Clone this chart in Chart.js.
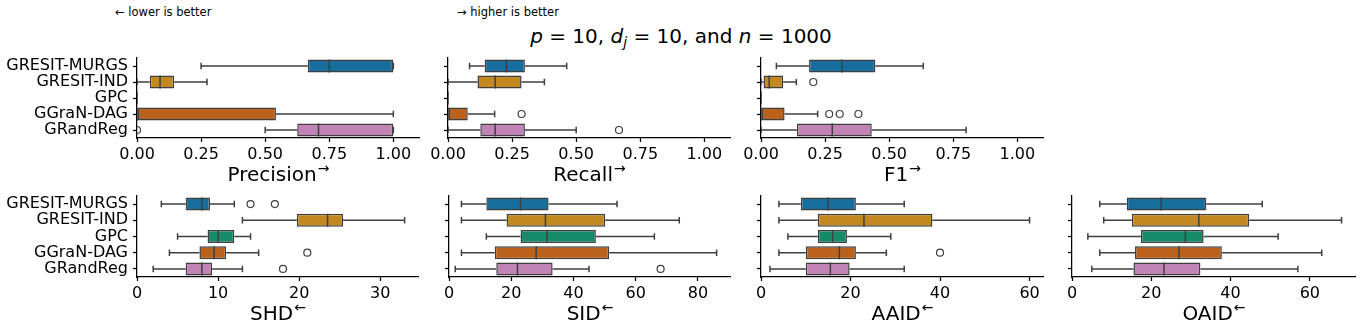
<!DOCTYPE html>
<html>
<head>
<meta charset="utf-8">
<script src="https://cdn.jsdelivr.net/npm/chart.js@4.4.1/dist/chart.umd.min.js"></script>
<style>
  body { margin:0; background:#fff; width:1362px; height:332px; position:relative; overflow:hidden; font-family:'DejaVu Sans', sans-serif; color:#000; }
  canvas { position:absolute; }
  .note { position:absolute; font-size:11.5px; line-height:12px; white-space:nowrap; }
  #title { position:absolute; left:0; width:1362px; top:26px; text-align:center; font-size:20px; line-height:20px; white-space:nowrap; }
  #title i { font-style:oblique; }
  #title sub { font-size:70%; line-height:0; vertical-align:-0.3em; }
</style>
</head>
<body>
<div class="note" style="left:115px; top:6px">← lower is better</div>
<div class="note" style="left:457px; top:6px">→ higher is better</div>
<div id="title"><i>p</i> = 10, <i>d<sub>j</sub></i> = 10, and <i>n</i> = 1000</div>
<script>
const CATEGORIES = ['GRESIT-MURGS', 'GRESIT-IND', 'GPC', 'GGraN-DAG', 'GRandReg'];
const BOX_COLORS = ['#176d9c', '#c38820', '#158b6a', '#ba611b', '#c283b6'];

// per method: [whisker low, Q1, median, Q3, whisker high]
const PRECISION = [[0.25, 0.666, 0.75, 1, 1], [0, 0.05, 0.09, 0.145, 0.273], [0, 0, 0, 0, 0], [0, 0, 0, 0.542, 1], [0.5, 0.625, 0.708, 1, 1]];
const PRECISION_OUT = [[], [], [], [], [0]];
const RECALL = [[0.084, 0.143, 0.228, 0.30, 0.463], [0, 0.115, 0.184, 0.287, 0.376], [0, 0, 0, 0, 0], [0, 0, 0, 0.077, 0.182], [0, 0.126, 0.184, 0.30, 0.50]];
const RECALL_OUT = [[], [], [], [0.287], [0.667]];
const F1 = [[0.06, 0.1875, 0.315, 0.446, 0.633], [0, 0.01, 0.032, 0.086, 0.138], [0, 0, 0, 0, 0], [0, 0, 0, 0.092, 0.221], [0, 0.14, 0.278, 0.432, 0.80]];
const F1_OUT = [[], [0.204], [], [0.266, 0.307, 0.38], []];
const SHD = [[3, 6, 8, 9, 12], [13, 19.7, 23.5, 25.4, 33], [5, 8.7, 10, 12, 14], [4, 7.7, 9.5, 11, 15], [2, 6, 8, 9.25, 13]];
const SHD_OUT = [[14, 17], [], [], [21], [18]];
const SID = [[4, 12, 23, 32, 54], [4, 18.5, 31, 50.2, 74], [12, 23, 31.5, 47.2, 66], [4, 14.7, 28, 51.5, 86], [2, 15.2, 22, 33.3, 45]];
const SID_OUT = [[], [], [], [], [68]];
const AAID = [[4, 8.9, 15, 21.2, 32], [4, 12.7, 23, 38.3, 60], [6, 12.7, 16, 19.2, 29], [4, 10, 17.5, 21.2, 28], [2, 10, 15.5, 19.8, 32]];
const AAID_OUT = [[], [], [], [40], []];
const OAID = [[7, 13.8, 22.5, 33.9, 48], [8, 15.1, 32, 44.7, 68], [4, 17.4, 28.6, 33.2, 52], [7, 15.9, 27, 37.8, 63], [5, 15.5, 23.2, 32.4, 57]];
const OAID_OUT = [[], [], [], [], []];

const UNIT_TICKS = [0, 0.25, 0.5, 0.75, 1];
const SHD_TICKS = [0, 10, 20, 30];
const SID_TICKS = [0, 20, 40, 60, 80];
const AID_TICKS = [0, 20, 40, 60];

const FONT = "'DejaVu Sans', sans-serif";
const LINE = '#3f3f3f';
const ROWS = [{ top: 58, height: 80 }, { top: 196, height: 81 }];

const PANELS = [
  { title: 'Precision', arrow: '→', stats: PRECISION, out: PRECISION_OUT, ticks: UNIT_TICKS, digits: 2, max: 1.1, left: 137, right: 419, row: 0, labels: true },
  { title: 'Recall', arrow: '→', stats: RECALL, out: RECALL_OUT, ticks: UNIT_TICKS, digits: 2, max: 1.1, left: 448, right: 730, row: 0, labels: false },
  { title: 'F1', arrow: '→', stats: F1, out: F1_OUT, ticks: UNIT_TICKS, digits: 2, max: 1.1, left: 761, right: 1043, row: 0, labels: false },
  { title: 'SHD', arrow: '←', stats: SHD, out: SHD_OUT, ticks: SHD_TICKS, digits: 0, max: 34.65, left: 137, right: 418, row: 1, labels: true },
  { title: 'SID', arrow: '←', stats: SID, out: SID_OUT, ticks: SID_TICKS, digits: 0, max: 90.3, left: 449, right: 730, row: 1, labels: false },
  { title: 'AAID', arrow: '←', stats: AAID, out: AAID_OUT, ticks: AID_TICKS, digits: 0, max: 63, left: 761, right: 1043, row: 1, labels: false },
  { title: 'OAID', arrow: '←', stats: OAID, out: OAID_OUT, ticks: AID_TICKS, digits: 0, max: 71.4, left: 1072, right: 1355, row: 1, labels: false }
];

// whiskers, caps, medians, fliers + axis label with the little arrow
const boxPlugin = {
  id: 'boxplot',
  afterDatasetsDraw(chart, args, opts) {
    const p = opts.panel;
    const { ctx, chartArea: a, scales: { x, y } } = chart;
    const meta = chart.getDatasetMeta(0);
    ctx.save();
    ctx.beginPath();
    ctx.rect(a.left, a.top - 4, a.right - a.left + 4, a.bottom - a.top + 8);
    ctx.clip();
    ctx.strokeStyle = LINE;
    p.stats.forEach((s, i) => {
      const cy = y.getPixelForValue(i);
      const half = meta.data[i].height / 2;
      const [lo, q1, md, q3, hi] = s.map(v => x.getPixelForValue(v));
      ctx.lineWidth = 1.5;
      ctx.beginPath();
      ctx.moveTo(lo, cy); ctx.lineTo(q1, cy);
      ctx.moveTo(q3, cy); ctx.lineTo(hi, cy);
      ctx.moveTo(lo, cy - half / 2); ctx.lineTo(lo, cy + half / 2);
      ctx.moveTo(hi, cy - half / 2); ctx.lineTo(hi, cy + half / 2);
      ctx.moveTo(md, cy - half); ctx.lineTo(md, cy + half);
      ctx.stroke();
      ctx.lineWidth = 1.2;
      p.out[i].forEach(v => {
        ctx.beginPath();
        ctx.arc(x.getPixelForValue(v), cy, 3.5, 0, Math.PI * 2);
        ctx.stroke();
      });
    });
    ctx.restore();
  },
  afterDraw(chart, args, opts) {
    const p = opts.panel;
    const { ctx, chartArea: a } = chart;
    const cx = (a.left + a.right) / 2, by = a.bottom + 43;
    ctx.save();
    ctx.fillStyle = '#000';
    ctx.textAlign = 'left';
    ctx.textBaseline = 'alphabetic';
    ctx.font = '20px ' + FONT;
    const w1 = ctx.measureText(p.title).width;
    ctx.font = '14px ' + FONT;
    const w2 = ctx.measureText(p.arrow).width;
    const x0 = cx - (w1 + w2) / 2;
    ctx.font = '20px ' + FONT;
    ctx.fillText(p.title, x0, by);
    ctx.font = '14px ' + FONT;
    ctx.fillText(p.arrow, x0 + w1 + 1, by - 8);
    ctx.restore();
  }
};

function makePanel(p) {
  const yW = p.labels ? p.left : 20;
  const padTop = 6, padRight = 6, xH = 50;
  const row = ROWS[p.row];
  const cv = document.createElement('canvas');
  const w = yW + (p.right - p.left) + padRight;
  const h = padTop + row.height + xH;
  cv.width = w; cv.height = h;
  cv.style.width = w + 'px'; cv.style.height = h + 'px';
  cv.style.left = (p.left - yW) + 'px';
  cv.style.top = (row.top - padTop) + 'px';
  document.body.appendChild(cv);

  new Chart(cv.getContext('2d'), {
    type: 'bar',
    data: {
      labels: CATEGORIES,
      datasets: [{
        data: p.stats.map(s => [s[1], s[3]]),
        backgroundColor: BOX_COLORS,
        borderColor: LINE,
        borderWidth: 1.5,
        borderSkipped: false,
        barPercentage: 0.8,
        categoryPercentage: 1
      }]
    },
    options: {
      indexAxis: 'y',
      responsive: false,
      animation: false,
      devicePixelRatio: 1,
      layout: { padding: { top: padTop, right: padRight, left: 0, bottom: 0 } },
      plugins: { legend: { display: false }, tooltip: { enabled: false }, boxplot: { panel: p } },
      scales: {
        x: {
          type: 'linear', min: 0, max: p.max,
          afterBuildTicks: s => { s.ticks = p.ticks.map(v => ({ value: v })); },
          afterFit: s => { s.height = xH; s.paddingLeft = 0; s.paddingRight = 0; },
          grid: { drawOnChartArea: false, tickLength: 4, tickColor: '#000', tickWidth: 1.25 },
          border: { color: '#000', width: 1.25 },
          ticks: { color: '#000', font: { family: FONT, size: 16 }, padding: 3, maxRotation: 0, autoSkip: false,
                   callback: v => Number(v).toFixed(p.digits) }
        },
        y: {
          afterFit: s => { s.width = yW; s.paddingTop = 0; s.paddingBottom = 0; },
          grid: { drawOnChartArea: false, offset: false, tickLength: 4, tickColor: '#000', tickWidth: 1.25 },
          border: { color: '#000', width: 1.25 },
          ticks: { display: p.labels, color: '#000', font: { family: FONT, size: 16 }, padding: 5, autoSkip: false }
        }
      }
    },
    plugins: [boxPlugin]
  });
}

PANELS.forEach(makePanel);
</script>
</body>
</html>
